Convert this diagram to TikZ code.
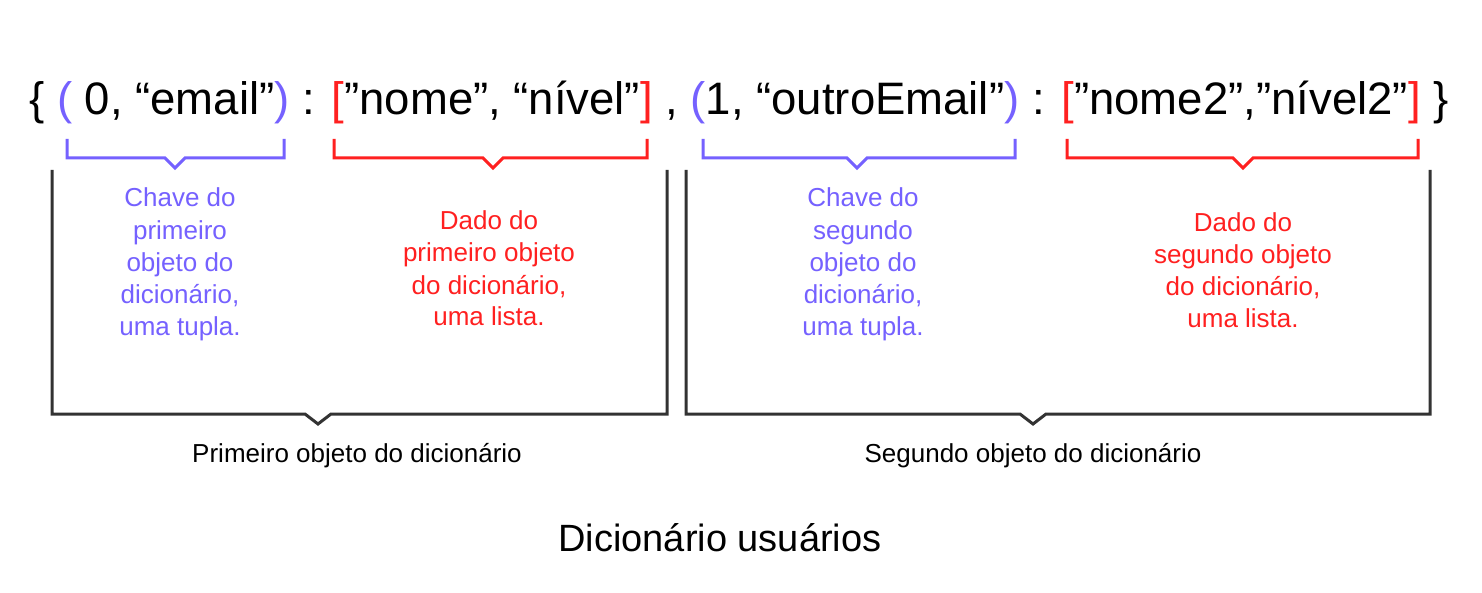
\documentclass[tikz,border=0pt]{standalone}
\usepackage{fontspec}
\setmainfont{Liberation Sans}
\definecolor{keycol}{HTML}{7561FF}
\definecolor{datacol}{HTML}{FF2020}
\definecolor{boxcol}{HTML}{333333}
\begin{document}
\begin{tikzpicture}[x=1pt,y=-1pt,
  keytext/.style={text=keycol,align=center,inner sep=0pt,anchor=base,font=\fontsize{26}{32}\selectfont},
  datatext/.style={text=datacol,align=center,inner sep=0pt,anchor=base,font=\fontsize{26}{32}\selectfont},
  objtext/.style={text=black,inner sep=0pt,anchor=base,font=\fontsize{26}{32}\selectfont},
  keybrace/.style={draw=keycol,line width=3pt},
  databrace/.style={draw=datacol,line width=3pt},
  objbrace/.style={draw=boxcol,line width=3pt}]
\fill[white] (0,0) rectangle (1482,593);
% main line
\node[inner sep=0pt,anchor=base west,font=\fontsize{45.5}{55}\selectfont] (dict) at (29,115)
 {\{ \textcolor{keycol}{(} 0, “email”\textcolor{keycol}{)} : \textcolor{datacol}{[}”nome”, “nível”\textcolor{datacol}{]} , \textcolor{keycol}{(}1, “outroEmail”\textcolor{keycol}{)} : \textcolor{datacol}{[}”nome2”,”nível2”\textcolor{datacol}{]} \}};
% small braces
\draw[keybrace] (67,139) -- (67,158) -- (165,158) -- (175,168) -- (185,158) -- (284,158) -- (284,139);
\draw[databrace] (334,139) -- (334,158) -- (483,158) -- (493,168) -- (503,158) -- (647,158) -- (647,139);
\draw[keybrace] (703,139) -- (703,158) -- (847,158) -- (857,168) -- (867,158) -- (1015,158) -- (1015,139);
\draw[databrace] (1067,139) -- (1067,158) -- (1233,158) -- (1243,168) -- (1253,158) -- (1418,158) -- (1418,139);
% big braces
\draw[objbrace] (52,170) -- (52,414) -- (305,414) -- (318,424) -- (331,414) -- (667,414) -- (667,170);
\draw[objbrace] (686,170) -- (686,414) -- (1020,414) -- (1033,424) -- (1046,414) -- (1430,414) -- (1430,170);
% labels (anchor base = baseline of last line)
\node[keytext] (k1) at (180,335) {Chave do\\primeiro\\objeto do\\dicionário,\\uma tupla.};
\node[datatext] (d1) at (489,326) {Dado do\\primeiro objeto\\do dicionário,\\uma lista.};
\node[keytext] (k2) at (863,335) {Chave do\\segundo\\objeto do\\dicionário,\\uma tupla.};
\node[datatext] (d2) at (1243,327) {Dado do\\segundo objeto\\do dicionário,\\uma lista.};
\node[objtext] (o1) at (357,462) {Primeiro objeto do dicionário};
\node[objtext] (o2) at (1033,462) {Segundo objeto do dicionário};
\node[inner sep=0pt,anchor=base,font=\fontsize{38}{46}\selectfont] (title) at (720,551) {Dicionário usuários};
\end{tikzpicture}
\end{document}
